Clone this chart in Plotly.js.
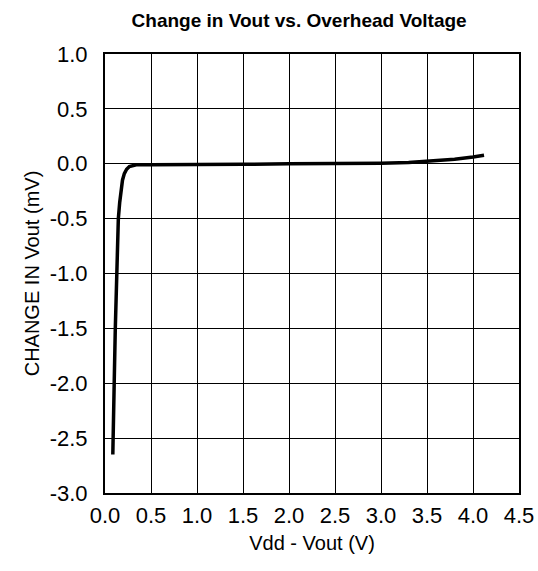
<!DOCTYPE html>
<html><head><meta charset="utf-8">
<script src="https://cdn.plot.ly/plotly-3.0.1.min.js"></script>
<style>body{margin:0;background:#fff}#chart{width:538px;height:571px}</style>
</head><body><div id="chart"></div>
<script>
const overheadV = [0.085, 0.09, 0.10, 0.112, 0.127, 0.145, 0.16, 0.175, 0.19, 0.21, 0.235, 0.265, 0.30, 0.34, 0.5, 1.0, 1.5, 2.0, 2.5, 3.0, 3.3, 3.5, 3.8, 4.0, 4.12];
const deltaVout = [-2.65, -2.5, -2.0, -1.5, -1.0, -0.5, -0.35, -0.24, -0.15, -0.09, -0.05, -0.025, -0.015, -0.01, -0.01, -0.01, -0.005, 0.0, 0.0, 0.005, 0.012, 0.022, 0.042, 0.062, 0.078];
const xTicks = [0,0.5,1,1.5,2,2.5,3,3.5,4,4.5];
const yTicks = [1,0.5,0,-0.5,-1,-1.5,-2,-2.5,-3];
const font = 'Liberation Sans, Arial, sans-serif';
Plotly.newPlot('chart', [{
  x: overheadV, y: deltaVout, mode: 'lines',
  line: {color: '#000', width: 3.5}, hoverinfo: 'skip'
}], {
  width: 538, height: 571,
  margin: {l: 105, r: 19, t: 54, b: 78},
  paper_bgcolor: '#fff', plot_bgcolor: '#fff',
  showlegend: false,
  title: {text: '<b>Change in Vout vs. Overhead Voltage</b>', x: 0.556, xanchor: 'center', y: 0.964, yanchor: 'middle', font: {family: font, size: 19, color: '#000'}},
  xaxis: {
    range: [0, 4.5], tickvals: xTicks, ticktext: xTicks.map(v => v.toFixed(1)),
    showgrid: true, gridcolor: '#000', gridwidth: 1, zeroline: false,
    showline: true, linecolor: '#000', linewidth: 2, mirror: true, ticks: '',
    ticklabelstandoff: 2,
    tickfont: {family: font, size: 22, color: '#000'},
    title: {text: 'Vdd - Vout (V)', font: {family: font, size: 20, color: '#000'}, standoff: 9}
  },
  yaxis: {
    range: [-3, 1], tickvals: yTicks, ticktext: yTicks.map(v => v.toFixed(1)),
    showgrid: true, gridcolor: '#000', gridwidth: 1, zeroline: false,
    showline: true, linecolor: '#000', linewidth: 2, mirror: true, ticks: '',
    ticklabelstandoff: 11,
    tickfont: {family: font, size: 22, color: '#000'},
    title: {text: 'CHANGE IN Vout (mV)', font: {family: font, size: 20, color: '#000'}, standoff: 5}
  }
}, {displayModeBar: false, staticPlot: true});
</script></body></html>
